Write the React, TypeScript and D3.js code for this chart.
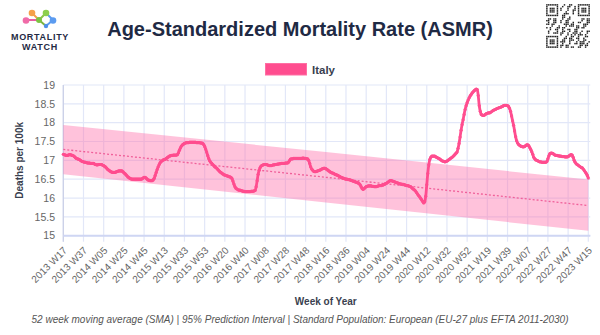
import React from "react";
import * as d3 from "d3";

// ---- data ----
const seriesName = "Italy";
const xTickLabels = [
  "2013 W17", "2013 W37", "2014 W05", "2014 W25", "2014 W45", "2015 W13", "2015 W33",
  "2015 W53", "2016 W20", "2016 W40", "2017 W08", "2017 W28", "2017 W48", "2018 W16",
  "2018 W36", "2019 W04", "2019 W24", "2019 W44", "2020 W12", "2020 W32", "2020 W52",
  "2021 W19", "2021 W39", "2022 W07", "2022 W27", "2022 W47", "2023 W15",
];
const tickEvery = 20; // weeks between labelled ticks
const yTicks = [15, 15.5, 16, 16.5, 17, 17.5, 18, 18.5, 19];

// weekly ASMR (52-week SMA), 2013 W17 .. 2023 W15
const asmr = [
  17.16, 17.15, 17.14, 17.13, 17.13, 17.14, 17.15, 17.15, 17.14, 17.13,
  17.12, 17.10, 17.07, 17.05, 17.04, 17.03, 17.02, 17.00, 16.98, 16.97,
  16.96, 16.95, 16.95, 16.94, 16.93, 16.93, 16.93, 16.92, 16.92, 16.92,
  16.92, 16.90, 16.89, 16.88, 16.88, 16.89, 16.89, 16.89, 16.89, 16.87,
  16.86, 16.84, 16.82, 16.79, 16.76, 16.74, 16.72, 16.70, 16.69, 16.68,
  16.68, 16.68, 16.69, 16.70, 16.71, 16.72, 16.72, 16.72, 16.72, 16.70,
  16.67, 16.65, 16.62, 16.59, 16.56, 16.54, 16.52, 16.51, 16.50, 16.50,
  16.50, 16.50, 16.50, 16.50, 16.50, 16.50, 16.50, 16.50, 16.51, 16.53,
  16.55, 16.55, 16.53, 16.50, 16.48, 16.47, 16.46, 16.46, 16.46, 16.48,
  16.52, 16.60, 16.68, 16.76, 16.83, 16.89, 16.94, 16.97, 16.99, 17.01,
  17.02, 17.03, 17.05, 17.07, 17.09, 17.11, 17.12, 17.13, 17.13, 17.14,
  17.14, 17.14, 17.14, 17.15, 17.20, 17.27, 17.33, 17.38, 17.41, 17.43,
  17.45, 17.46, 17.47, 17.47, 17.47, 17.48, 17.48, 17.48, 17.48, 17.48,
  17.48, 17.48, 17.47, 17.47, 17.47, 17.47, 17.46, 17.46, 17.45, 17.42,
  17.37, 17.30, 17.22, 17.13, 17.05, 16.99, 16.95, 16.92, 16.89, 16.86,
  16.83, 16.81, 16.79, 16.76, 16.73, 16.70, 16.68, 16.66, 16.64, 16.62,
  16.61, 16.60, 16.59, 16.58, 16.57, 16.56, 16.55, 16.52, 16.45, 16.37,
  16.30, 16.26, 16.24, 16.22, 16.21, 16.21, 16.20, 16.19, 16.18, 16.18,
  16.17, 16.17, 16.17, 16.17, 16.17, 16.17, 16.18, 16.18, 16.18, 16.19,
  16.20, 16.30, 16.46, 16.63, 16.74, 16.81, 16.85, 16.87, 16.88, 16.89,
  16.89, 16.89, 16.88, 16.87, 16.86, 16.86, 16.86, 16.87, 16.88, 16.88,
  16.89, 16.89, 16.90, 16.90, 16.91, 16.91, 16.92, 16.92, 16.92, 16.92,
  16.93, 16.93, 16.93, 16.95, 16.99, 17.03, 17.04, 17.04, 17.05, 17.05,
  17.05, 17.05, 17.05, 17.05, 17.05, 17.05, 17.05, 17.06, 17.06, 17.05,
  17.05, 17.04, 17.04, 17.00, 16.92, 16.83, 16.77, 16.74, 16.71, 16.70,
  16.70, 16.71, 16.72, 16.73, 16.74, 16.75, 16.77, 16.78, 16.79, 16.79,
  16.78, 16.76, 16.74, 16.72, 16.70, 16.68, 16.67, 16.66, 16.65, 16.63,
  16.62, 16.61, 16.60, 16.58, 16.57, 16.55, 16.54, 16.53, 16.52, 16.51,
  16.50, 16.50, 16.49, 16.49, 16.48, 16.47, 16.46, 16.45, 16.44, 16.43,
  16.42, 16.41, 16.40, 16.38, 16.35, 16.30, 16.25, 16.23, 16.25, 16.28,
  16.30, 16.31, 16.32, 16.32, 16.32, 16.32, 16.31, 16.31, 16.30, 16.30,
  16.30, 16.31, 16.32, 16.33, 16.33, 16.33, 16.34, 16.35, 16.36, 16.38,
  16.39, 16.41, 16.43, 16.45, 16.46, 16.46, 16.45, 16.44, 16.43, 16.42,
  16.41, 16.40, 16.39, 16.38, 16.37, 16.37, 16.36, 16.36, 16.35, 16.34,
  16.33, 16.33, 16.32, 16.31, 16.30, 16.28, 16.25, 16.23, 16.21, 16.18,
  16.14, 16.10, 16.06, 16.03, 15.99, 15.95, 15.91, 15.87, 15.90, 16.05,
  16.35, 16.65, 16.88, 17.02, 17.08, 17.11, 17.11, 17.11, 17.11, 17.09,
  17.08, 17.06, 17.05, 17.03, 17.01, 16.99, 16.98, 16.97, 16.96, 16.97,
  16.98, 17.00, 17.02, 17.04, 17.06, 17.08, 17.10, 17.13, 17.16, 17.19,
  17.22, 17.32, 17.45, 17.62, 17.80, 17.95, 18.08, 18.22, 18.35, 18.45,
  18.53, 18.60, 18.66, 18.71, 18.75, 18.79, 18.82, 18.85, 18.87, 18.89,
  18.88, 18.72, 18.45, 18.30, 18.22, 18.20, 18.19, 18.20, 18.22, 18.24,
  18.25, 18.26, 18.26, 18.27, 18.29, 18.31, 18.33, 18.34, 18.35, 18.37,
  18.38, 18.39, 18.40, 18.41, 18.42, 18.43, 18.45, 18.46, 18.46, 18.46,
  18.45, 18.43, 18.38, 18.30, 18.18, 18.05, 17.93, 17.78, 17.63, 17.52,
  17.46, 17.42, 17.40, 17.38, 17.37, 17.36, 17.36, 17.37, 17.39, 17.41,
  17.41, 17.39, 17.34, 17.29, 17.23, 17.16, 17.08, 17.04, 17.01, 17.00,
  16.99, 16.97, 16.96, 16.96, 16.95, 16.95, 16.95, 16.95, 16.95, 16.97,
  17.04, 17.12, 17.18, 17.19, 17.19, 17.18, 17.16, 17.14, 17.13, 17.13,
  17.12, 17.12, 17.11, 17.11, 17.10, 17.10, 17.10, 17.09, 17.09, 17.09,
  17.10, 17.12, 17.14, 17.15, 17.14, 17.08, 17.00, 16.95, 16.91, 16.89,
  16.87, 16.85, 16.83, 16.81, 16.80, 16.77, 16.73, 16.69, 16.65, 16.60,
  16.53,
];

// baseline and 95% prediction interval (read at first, middle and last week)
const pi = [
  { week: 0, lower: 16.63, baseline: 17.29, upper: 17.94 },
  { week: 260, lower: 15.88, baseline: 16.55, upper: 17.22 },
  { week: 520, lower: 15.13, baseline: 15.80, upper: 16.49 },
];

const footer =
  "52 week moving average (SMA) | 95% Prediction Interval | Standard Population: European (EU-27 plus EFTA 2011-2030)";

// ---- styling ----
const W = 600, H = 335;
const M = { left: 63.3, right: 588.3, top: 85, bottom: 235.7 };
const PINK = "#ff4d8f";
const BAND = "rgba(255, 110, 170, 0.42)";
const GRID = "#e2e7f8";
const FONT = "'Liberation Sans', Arial, Helvetica, sans-serif";
const NAVY = "#1f2a44";

function QR({ x0, y0, size }: { x0: number; y0: number; size: number }) {
  const n = 25;
  const m = size / n;
  const cells: JSX.Element[] = [];
  const finder = (r: number, c: number) => {
    const inF = (rr: number, cc: number) => rr >= 0 && rr < 7 && cc >= 0 && cc < 7;
    for (const [fr, fc] of [[0, 0], [0, n - 7], [n - 7, 0]]) {
      if (inF(r - fr, c - fc)) {
        const rr = r - fr, cc = c - fc;
        const ring = rr === 0 || rr === 6 || cc === 0 || cc === 6;
        const core = rr >= 2 && rr <= 4 && cc >= 2 && cc <= 4;
        return ring || core ? 1 : 0;
      }
      if (r - fr >= -1 && r - fr <= 7 && c - fc >= -1 && c - fc <= 7) return 0;
    }
    return -1;
  };
  for (let r = 0; r < n; r++) {
    for (let c = 0; c < n; c++) {
      let v = finder(r, c);
      if (v === -1) v = ((r * 7 + c * 13 + ((r * c) % 5)) * 2654435761 >>> 0) % 7 < 3 ? 1 : 0;
      if (v) cells.push(<rect key={r + "-" + c} x={x0 + c * m + 0.15} y={y0 + r * m + 0.15} width={m - 0.3} height={m - 0.3} fill="#222" />);
    }
  }
  return <g>{cells}</g>;
}

export default function App() {
  const x = d3.scaleLinear().domain([0, asmr.length - 1]).range([M.left, M.right]);
  const y = d3.scaleLinear().domain([15, 19]).range([M.bottom, M.top]);

  const line = d3.line<number>().x((_, i) => x(i)).y((d) => y(d)).curve(d3.curveMonotoneX);
  const area = d3
    .area<(typeof pi)[number]>()
    .x((d) => x(d.week))
    .y0((d) => y(d.lower))
    .y1((d) => y(d.upper));
  const baseLine = d3
    .line<(typeof pi)[number]>()
    .x((d) => x(d.week))
    .y((d) => y(d.baseline));

  const xTicks = xTickLabels.map((lab, k) => ({ lab, i: k * tickEvery }));

  return (
    <svg width={W} height={H} style={{ position: "absolute", left: 0, top: 0, background: "#fff" }} fontFamily={FONT}>
      {/* logo */}
      <g>
        <line x1={32} y1={13} x2={39} y2={20} stroke="#f0a04b" strokeWidth={2} />
        <line x1={26} y1={20} x2={39} y2={20} stroke="#e85fa0" strokeWidth={2} />
        <line x1={39} y1={20} x2={46} y2={13} stroke="#8bc34a" strokeWidth={2} />
        <line x1={46} y1={13} x2={53} y2={20} stroke="#5b9bf0" strokeWidth={2} />
        <line x1={39} y1={20} x2={46} y2={26} stroke="#7cb342" strokeWidth={2} />
        <line x1={46} y1={26} x2={53} y2={20} stroke="#5b9bf0" strokeWidth={2} />
        <circle cx={32} cy={13} r={3.3} fill="#f5a04a" />
        <circle cx={26} cy={20.5} r={3.3} fill="#f06ba8" />
        <circle cx={39} cy={20} r={3} fill="#7cc243" />
        <circle cx={46} cy={13} r={3.3} fill="#8ccf4d" />
        <circle cx={53} cy={20.5} r={3.3} fill="#5b9bf0" />
        <circle cx={46} cy={26} r={2.2} fill="#4f8fe8" />
        <text x={40} y={40} textAnchor="middle" fontSize={9} fontWeight={700} fill={NAVY} letterSpacing={0.7}>MORTALITY</text>
        <text x={40} y={50} textAnchor="middle" fontSize={9} fontWeight={700} fill={NAVY} letterSpacing={0.7}>WATCH</text>
      </g>

      {/* title */}
      <text x={300} y={36} textAnchor="middle" fontSize={20} fontWeight={700} fill={NAVY}>
        Age-Standardized Mortality Rate (ASMR)
      </text>

      <QR x0={546} y0={4} size={44} />

      {/* legend */}
      <rect x={265.5} y={63.5} width={41} height={11.5} fill={PINK} stroke="#ff6fa3" strokeWidth={1} />
      <text x={312} y={73.5} fontSize={11.5} fontWeight={700} fill="#3a3f4f">{seriesName}</text>

      {/* grid */}
      {yTicks.map((t) => (
        <line key={"gy" + t} x1={M.left} x2={M.right + 2} y1={y(t)} y2={y(t)} stroke={GRID} strokeWidth={1.2} />
      ))}
      {xTicks.map((t) => (
        <line key={"gx" + t.i} x1={x(t.i)} x2={x(t.i)} y1={M.top} y2={M.bottom + 6} stroke={GRID} strokeWidth={1.2} />
      ))}
      <line x1={M.left} x2={M.left} y1={M.top} y2={M.bottom + 6} stroke="#c9cfe6" strokeWidth={1.2} />
      <line x1={M.left} x2={M.right + 2} y1={M.bottom} y2={M.bottom} stroke="#cfd6f3" strokeWidth={2} />

      {/* y tick labels */}
      {yTicks.map((t) => (
        <text key={"yl" + t} x={55} y={y(t)} dy="0.35em" textAnchor="end" fontSize={10.5} fill="#666">
          {String(t)}
        </text>
      ))}
      {/* x tick labels */}
      {xTicks.map((t) => (
        <text
          key={"xl" + t.i}
          transform={`translate(${x(t.i) + 2},${M.bottom + 13}) rotate(-45)`}
          textAnchor="end"
          dy="0.35em"
          fontSize={10}
          fill="#666"
        >
          {t.lab}
        </text>
      ))}

      {/* band & baseline */}
      <path d={area(pi) || ""} fill={BAND} />
      <path d={baseLine(pi) || ""} fill="none" stroke="#f0609a" strokeWidth={1.3} strokeDasharray="2,2" />

      {/* series */}
      <path d={line(asmr) || ""} fill="none" stroke={PINK} strokeWidth={2.8} strokeLinejoin="round" />
      {asmr.map((v, i) => (
        <circle key={"p" + i} cx={x(i)} cy={y(v)} r={1.6} fill={PINK} />
      ))}

      {/* axis titles */}
      <text transform={`translate(23,${(M.top + M.bottom) / 2 + 0}) rotate(-90)`} textAnchor="middle" fontSize={10} fontWeight={700} fill="#3a3f4f">
        Deaths per 100k
      </text>
      <text x={(M.left + M.right) / 2} y={305} textAnchor="middle" fontSize={10} fontWeight={700} fill="#3a3f4f">
        Week of Year
      </text>
      <text x={300} y={323} textAnchor="middle" fontSize={10} fontStyle="italic" fill="#555">
        {footer}
      </text>
    </svg>
  );
}
